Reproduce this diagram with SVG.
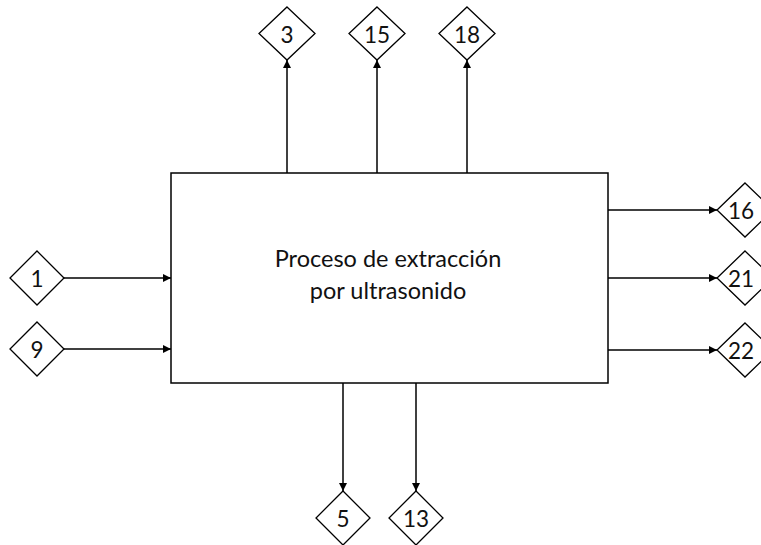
<svg xmlns="http://www.w3.org/2000/svg" width="761" height="545" viewBox="0 0 761 545">
  <style>
    .box { fill: #fff; stroke: #000; stroke-width: 1.5; }
    .dia { fill: #fff; stroke: #000; stroke-width: 1.3; }
    .lbl { font-family: Lato, "Liberation Sans", sans-serif; font-size: 22.5px; fill: #111; text-anchor: middle; dominant-baseline: central; }
    .title { font-size: 23.5px; }
    .flow { fill: none; stroke: #000; stroke-width: 1.5; marker-end: url(#arrow); }
  </style>
  <defs>
    <marker id="arrow" viewBox="0 0 10 10" refX="10" refY="5" markerWidth="8" markerHeight="8" markerUnits="userSpaceOnUse" orient="auto">
      <path d="M0,0 L10,5 L0,10 Z" fill="#000"/>
    </marker>
  </defs>

  <rect width="761" height="545" fill="#fff"/>

  <!-- connectors -->
  <g id="connectors">
    <line class="flow" x1="287" y1="173" x2="287" y2="60"/>
    <line class="flow" x1="377" y1="173" x2="377" y2="60"/>
    <line class="flow" x1="467" y1="173" x2="467" y2="60"/>
    <line class="flow" x1="63" y1="278" x2="171" y2="278"/>
    <line class="flow" x1="63" y1="349" x2="171" y2="349"/>
    <line class="flow" x1="608" y1="210" x2="717" y2="210"/>
    <line class="flow" x1="608" y1="278" x2="717" y2="278"/>
    <line class="flow" x1="608" y1="350" x2="717" y2="350"/>
    <line class="flow" x1="343" y1="383" x2="343" y2="491"/>
    <line class="flow" x1="416" y1="383" x2="416" y2="491"/>
  </g>

  <!-- process block -->
  <g id="process">
    <rect class="box" x="171" y="173" width="437" height="210"/>
    <text class="lbl title" x="388" y="258">Proceso de extracción</text>
    <text class="lbl title" x="388" y="290">por ultrasonido</text>
  </g>

  <!-- stream markers -->
  <g id="s3"><polygon class="dia" points="287,7 315,33.5 287,60 259,33.5"/><text class="lbl" x="287" y="34">3</text></g>
  <g id="s15"><polygon class="dia" points="377,7 405,33.5 377,60 349,33.5"/><text class="lbl" x="377" y="34">15</text></g>
  <g id="s18"><polygon class="dia" points="467,7 495,33.5 467,60 439,33.5"/><text class="lbl" x="467" y="34">18</text></g>

  <g id="s1"><polygon class="dia" points="37,251 64,278 37,305 10,278"/><text class="lbl" x="37" y="278">1</text></g>
  <g id="s9"><polygon class="dia" points="37,322 64,349 37,376 10,349"/><text class="lbl" x="37" y="349">9</text></g>

  <g id="s16"><polygon class="dia" points="745,183 773,210 745,237 717,210"/><text class="lbl" x="741" y="210">16</text></g>
  <g id="s21"><polygon class="dia" points="745,251 773,278 745,305 717,278"/><text class="lbl" x="741" y="278">21</text></g>
  <g id="s22"><polygon class="dia" points="745,323 773,350 745,377 717,350"/><text class="lbl" x="741" y="350">22</text></g>

  <g id="s5"><polygon class="dia" points="343,491 370,518 343,545 316,518"/><text class="lbl" x="343" y="518">5</text></g>
  <g id="s13"><polygon class="dia" points="416,491 443,518 416,545 389,518"/><text class="lbl" x="416" y="518">13</text></g>
</svg>
